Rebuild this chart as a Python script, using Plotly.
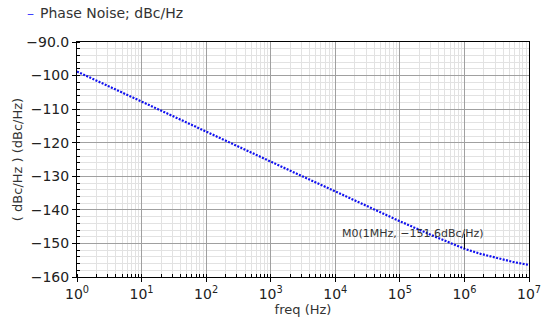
import math
import plotly.graph_objects as go

# Phase noise versus offset frequency
freq_hz = [1, 3.162, 10, 31.62, 100, 316.2, 1e3, 3162, 1e4, 3.162e4,
           1e5, 3.162e5, 1e6, 1.778e6, 3.162e6, 5.623e6, 1e7]
phase_noise_dbc = [-98.8, -103.3, -107.8, -112.3, -116.8, -121.3, -125.7, -130.1,
                   -134.5, -139.0, -143.4, -147.6, -151.6, -153.1, -154.4, -155.5, -156.4]

# Marker M0
marker_freq = 1e6
marker_val = -151.6

# Tick labels
x_tickvals = [1, 10, 100, 1e3, 1e4, 1e5, 1e6, 1e7]
x_ticktext = ["10<sup>%d</sup>" % i for i in range(8)]
y_tickvals = [-90, -100, -110, -120, -130, -140, -150, -160]
y_ticktext = ["\u221290.0", "\u2212100", "\u2212110", "\u2212120", "\u2212130",
              "\u2212140", "\u2212150", "\u2212160"]

FONT = "DejaVu Sans"
TRACE_COLOR = "#1010f0"

fig = go.Figure()
fig.add_trace(go.Scatter(
    x=freq_hz, y=phase_noise_dbc, mode="lines",
    name="Phase Noise; dBc/Hz",
    line=dict(color=TRACE_COLOR, width=2.2, dash="2px,1.4px"),
    showlegend=False,
))

# Marker cursor tick and readout
fig.add_shape(type="line", xref="x", yref="y", x0=marker_freq, x1=marker_freq,
              ysizemode="pixel", yanchor=marker_val, y0=0, y1=15,
              line=dict(color="black", width=1))
fig.add_annotation(x=math.log10(marker_freq), y=marker_val, xref="x", yref="y",
                   text="M0(1MHz, \u2212151.6dBc/Hz)", showarrow=False,
                   xanchor="center", yanchor="middle", xshift=-51, yshift=15,
                   font=dict(family=FONT, size=11, color="#333333"))

# Legend entry: short line sample plus series name
fig.add_annotation(x=0, y=1, xref="paper", yref="paper", xanchor="left", yanchor="middle",
                   xshift=-52, yshift=29, showarrow=False, text="\u2013",
                   font=dict(family=FONT, size=14, color="#4040ff"))
fig.add_annotation(x=0, y=1, xref="paper", yref="paper", xanchor="left", yanchor="middle",
                   xshift=-39, yshift=29, showarrow=False, text="Phase Noise; dBc/Hz",
                   font=dict(family=FONT, size=14, color="#333333"))

fig.update_xaxes(
    type="log", range=[0, 7], automargin=False,
    tickmode="array", tickvals=x_tickvals, ticktext=x_ticktext,
    showgrid=True, gridcolor="#a0a0a0", gridwidth=1,
    showline=True, linecolor="black", linewidth=1, mirror=True,
    ticks="outside", ticklen=4, tickcolor="black",
    minor=dict(dtick="D1", showgrid=True, gridcolor="#e2e2e2", ticks="inside",
               ticklen=3, tickcolor="black"),
    tickfont=dict(family=FONT, size=14, color="#222222"),
    title=dict(text="freq (Hz)", font=dict(family=FONT, size=13, color="#333333"), standoff=2),
    zeroline=False,
)
fig.update_yaxes(
    range=[-160, -90], automargin=False,
    tickmode="array", tickvals=y_tickvals, ticktext=y_ticktext,
    showgrid=True, gridcolor="#a0a0a0", gridwidth=1,
    showline=True, linecolor="black", linewidth=1, mirror=True,
    ticks="outside", ticklen=4, tickcolor="black",
    minor=dict(dtick=2, showgrid=True, gridcolor="#e2e2e2", ticks="inside",
               ticklen=3, tickcolor="black"),
    tickfont=dict(family=FONT, size=14, color="#222222"),
    title=dict(text="( dBc/Hz ) (dBc/Hz)", font=dict(family=FONT, size=13, color="#333333"),
               standoff=0),
    zeroline=False,
)

fig.update_layout(
    width=545, height=320,
    margin=dict(l=77, r=16, t=42, b=43),
    paper_bgcolor="white", plot_bgcolor="white",
)

fig.write_html("out.html")
